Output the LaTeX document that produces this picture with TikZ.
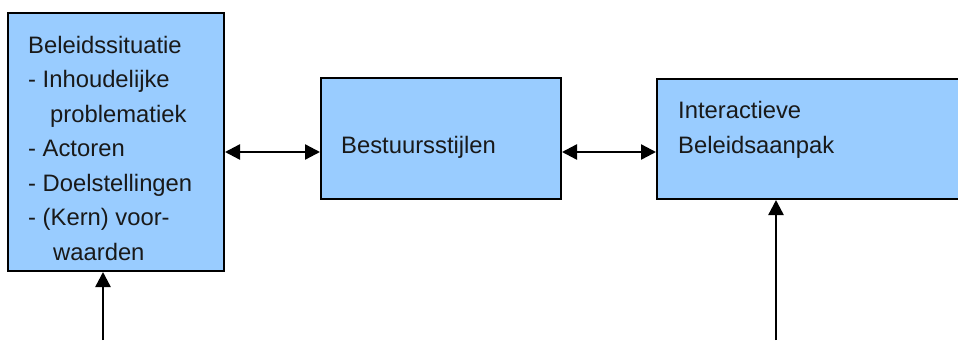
\documentclass[tikz,border=0pt]{standalone}
\usepackage{fontspec}
\setmainfont{Liberation Sans}
\usetikzlibrary{arrows.meta}
\definecolor{boxblue}{HTML}{99CCFF}
\tikzset{
  box/.style={draw=black, line width=2pt, fill=boxblue, inner sep=0pt, anchor=north west},
  txt/.style={inner sep=0pt, anchor=base west, align=left, font=\fontsize{23.8}{34.5}\selectfont, text=black!90},
  link/.style={line width=2.4pt, {Triangle[length=15pt,width=15pt]}-{Triangle[length=15pt,width=15pt]}},
  feed/.style={line width=2.4pt, -{Triangle[length=15pt,width=15pt]}}
}
\begin{document}
\begin{tikzpicture}[x=1pt, y=-1pt]
  \useasboundingbox (0,0) rectangle (958,340);
  \clip (0,0) rectangle (958,340);
  % boxes
  \node[box, minimum width=216pt, minimum height=258pt] (sit) at (7,12) {};
  \node[box, minimum width=240pt, minimum height=121pt] (mid) at (320,77) {};
  \node[box, minimum width=320pt, minimum height=120pt] (aan) at (656,78) {};
  % texts (the base anchor of a multi-line node sits on its last line)
  \node[txt] (sitT) at (28,260) {Beleidssituatie\\- Inhoudelijke\\\hspace*{22pt}problematiek\\- Actoren\\- Doelstellingen\\- (Kern) voor-\\\hspace*{25pt}waarden};
  \node[txt] (midT) at (341,153) {Bestuursstijlen};
  \node[txt] (aanT) at (678,153) {Interactieve\\Beleidsaanpak};
  % connectors
  \coordinate (a) at ([yshift=-13.5pt]mid.west);
  \coordinate (b) at ([yshift=-13.5pt]mid.east);
  \draw[link] (sit.east |- a) -- (a);
  \draw[link] (b) -- (aan.west |- b);
  \coordinate (lb) at (103,340);
  \coordinate (rb) at (776,340);
  \draw[feed] (lb) -- (lb |- sit.south);
  \draw[feed] (rb) -- (rb |- aan.south);
\end{tikzpicture}
\end{document}
